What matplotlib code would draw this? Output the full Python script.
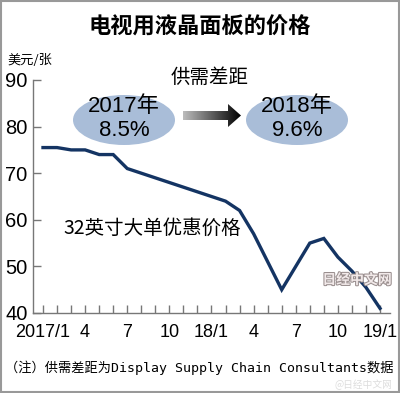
import numpy as np
import matplotlib
matplotlib.use("Agg")
import matplotlib.pyplot as plt
from matplotlib.patches import Ellipse, Polygon, Rectangle
import matplotlib.patheffects as pe

# monthly prices, 2017/1 .. 2019/1 (USD per panel)
months = list(range(25))
price = [75.5, 75.5, 75, 75, 74, 74, 71, 70, 69, 68, 67, 66,
         65, 64, 62, 57, 51, 45, 50, 55, 56, 52, 49, 45.5, 41]
tick_pos = [0, 3, 6, 9, 12, 15, 18, 21, 24]
tick_lbl = ["2017/1", "4", "7", "10", "18/1", "4", "7", "10", "19/1"]
yticks = [40, 50, 60, 70, 80, 90]
gap_years = ["2017年", "2018年"]
gap_vals = ["8.5%", "9.6%"]

CJK = ["Noto Sans CJK SC", "DejaVu Sans"]
NUM = ["Liberation Sans", "DejaVu Sans"]

W, H = 400, 393
fig = plt.figure(figsize=(W / 100, H / 100), dpi=100)

# main axes: x from px 33 to 390, y from px 80 (90) to 313 (40)
x0, x1 = 33, 390
ax = fig.add_axes([x0 / W, 1 - 313 / H, (x1 - x0) / W, (313 - 80) / H])
ppm = (380 - 43) / 24.0
ax.set_xlim(-(43 - x0) / ppm, (x1 - 43) / ppm)
ax.set_ylim(40, 90)
ax.patch.set_alpha(0)

ax.plot(months, price, color="#143463", lw=2.4, solid_joinstyle="miter")

for s in ["top", "right"]:
    ax.spines[s].set_visible(False)
for s in ["left", "bottom"]:
    ax.spines[s].set_color("#777777")
    ax.spines[s].set_linewidth(1.0)

ax.set_yticks(yticks)
ax.set_yticklabels([str(v) for v in yticks], family=NUM, fontsize=14.5)
ax.set_xticks(tick_pos)
ax.set_xticklabels(tick_lbl, family=NUM, fontsize=13)
ax.set_xticks(months, minor=True)
ax.tick_params(axis="y", direction="in", length=6, width=1, color="#777777", pad=4)
ax.tick_params(axis="x", which="both", direction="in", length=6, width=1,
               color="#777777", pad=8)

# overlay in pixel coordinates for annotations
ov = fig.add_axes([0, 0, 1, 1])
ov.set_xlim(0, W)
ov.set_ylim(H, 0)
ov.axis("off")
ov.patch.set_alpha(0)

ov.add_patch(Rectangle((1, 1), W - 2, H - 2, fill=False, ec="#999999", lw=1.5))

ov.text(200, 27, "电视用液晶面板的价格", family=CJK, fontsize=16, fontweight="bold",
        ha="center", va="center")
ov.text(7, 60, "美元/张", family=CJK, fontsize=9.5, ha="left", va="center")
ov.text(210, 77, "供需差距", family=CJK, fontsize=14, ha="center", va="center")

for cx, yr, v in zip([124, 297], gap_years, gap_vals):
    ov.add_patch(Ellipse((cx, 120), 102, 50, fc="#a9bdd8", ec="none"))
    ov.text(cx, 106, yr, family=NUM[:1] + CJK, fontsize=16, ha="center", va="center")
    ov.text(cx, 131, v, family=NUM, fontsize=16, ha="center", va="center")

# gradient arrow
arrow = Polygon([(183, 111), (228, 111), (228, 104), (241, 115.5),
                 (228, 127), (228, 120), (183, 120)], closed=True,
                fc="none", ec="none")
ov.add_patch(arrow)
grad = np.linspace(0, 1, 256).reshape(1, -1)
im = ov.imshow(grad, extent=[183, 241, 127, 104], cmap="gray_r", vmin=-0.35,
               vmax=1.0, aspect="auto", interpolation="bilinear")
im.set_clip_path(arrow)
ov.set_xlim(0, W)
ov.set_ylim(H, 0)

ov.text(63, 228, "32英寸大单优惠价格", family=CJK, fontsize=14, ha="left", va="center")

ov.text(5, 368, "（注）供需差距为Display Supply Chain Consultants数据",
        family=["DejaVu Sans Mono", "Noto Sans CJK SC"], fontsize=9.5,
        ha="left", va="center")

# watermarks
ov.text(357, 280, "日经中文网", family=CJK, fontsize=10, fontweight="bold",
        color="#f2eaea", ha="center", va="center",
        path_effects=[pe.withStroke(linewidth=1.5, foreground="#9a8f8f")])
ov.text(392, 385, "@日经中文网", family=CJK, fontsize=7, color="#dddddd",
        ha="right", va="center")

fig.savefig("out.png", dpi=100)
